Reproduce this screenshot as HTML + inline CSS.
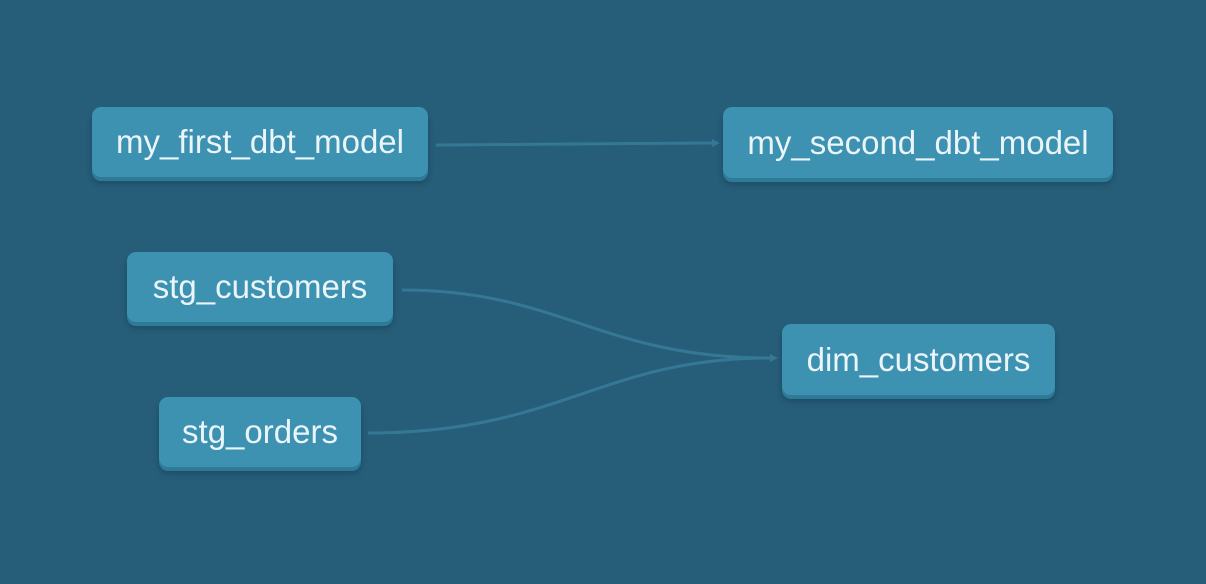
<!DOCTYPE html>
<html><head><style>
html,body{margin:0;padding:0;}
body{width:1206px;height:584px;background:#265d78;position:relative;overflow:hidden;font-family:"Liberation Sans",sans-serif;}
.n{position:absolute;background:#3d91b1;border-radius:9px;color:#eaf5f9;font-size:33px;display:flex;align-items:center;justify-content:center;box-shadow:0 4px 0 #2f7a97, 0 6px 6px rgba(10,40,60,0.35);box-sizing:border-box;}
svg{position:absolute;left:0;top:0;}
</style></head><body>
<svg width="1206" height="584">
<g fill="none" stroke="#357896" stroke-width="3">
<path d="M436 145 L712 143"/>
<path d="M402 290 C560 290 600 358 770 358"/>
<path d="M368 433 C560 433 600 358 770 358"/>
</g>
<g fill="#357896">
<path d="M712 139 L720 143 L712 147 Z"/>
<path d="M770 354 L778 358 L770 362 Z"/>
</g>
</svg>
<div class="n" style="left:92px;top:107px;width:336px;height:70px;">my_first_dbt_model</div>
<div class="n" style="left:723px;top:107px;width:390px;height:71px;">my_second_dbt_model</div>
<div class="n" style="left:127px;top:252px;width:266px;height:70px;">stg_customers</div>
<div class="n" style="left:159px;top:397px;width:202px;height:70px;">stg_orders</div>
<div class="n" style="left:782px;top:324px;width:273px;height:71px;">dim_customers</div>
</body></html>
